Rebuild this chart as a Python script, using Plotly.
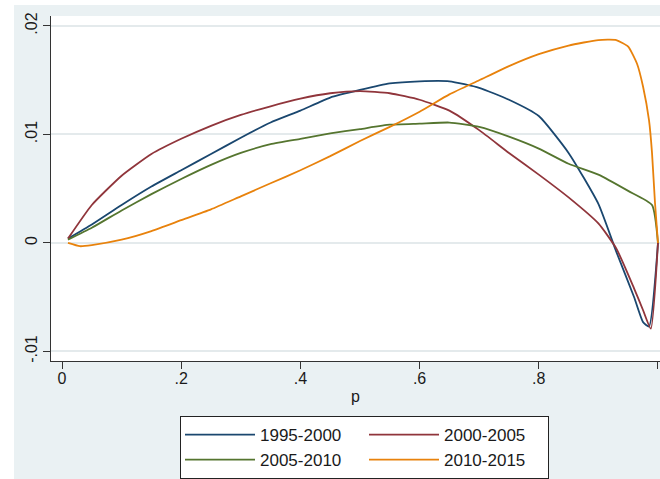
import plotly.graph_objects as go

# ---- data: estimated quantile-difference curves by period ----
p_9500 = [0.01, 0.05, 0.10, 0.15, 0.20, 0.25, 0.30, 0.35, 0.40, 0.45, 0.50, 0.55,
          0.60, 0.65, 0.70, 0.75, 0.80, 0.85, 0.90, 0.93, 0.96, 0.975, 0.985, 1.0]
v_9500 = [0.0004, 0.0017, 0.0035, 0.0052, 0.0067, 0.0082, 0.0097, 0.0111, 0.0122, 0.0134,
          0.0141, 0.0147, 0.0149, 0.0149, 0.0143, 0.0132, 0.0117, 0.0083, 0.0036, -0.0008,
          -0.0050, -0.0073, -0.0077, 0.0]

p_0005 = [0.01, 0.05, 0.10, 0.15, 0.20, 0.25, 0.30, 0.35, 0.40, 0.45, 0.50, 0.55,
          0.60, 0.65, 0.70, 0.75, 0.80, 0.85, 0.90, 0.93, 0.96, 0.975, 0.988, 1.0]
v_0005 = [0.0004, 0.0035, 0.0062, 0.0082, 0.0096, 0.0108, 0.0118, 0.0126, 0.0133, 0.0138,
          0.0140, 0.0138, 0.0132, 0.0122, 0.0104, 0.0083, 0.0063, 0.0042, 0.0018, -0.0005,
          -0.0042, -0.0062, -0.0079, 0.0]

p_0510 = [0.01, 0.05, 0.10, 0.15, 0.20, 0.25, 0.30, 0.35, 0.40, 0.45, 0.50, 0.55,
          0.60, 0.65, 0.70, 0.75, 0.80, 0.85, 0.90, 0.95, 0.99, 1.0]
v_0510 = [0.0003, 0.0014, 0.0030, 0.0045, 0.0059, 0.0072, 0.0083, 0.0091, 0.0096, 0.0101,
          0.0105, 0.0109, 0.0110, 0.0111, 0.0107, 0.0098, 0.0087, 0.0073, 0.0063, 0.0048,
          0.0035, 0.0]

p_1015 = [0.01, 0.03, 0.05, 0.10, 0.15, 0.20, 0.25, 0.30, 0.35, 0.40, 0.45, 0.50, 0.55,
          0.60, 0.65, 0.70, 0.75, 0.80, 0.85, 0.90, 0.93, 0.95, 0.965, 0.975, 0.985,
          0.99, 0.995, 1.0]
v_1015 = [0.0000, -0.0003, -0.0002, 0.0003, 0.0011, 0.0021, 0.0031, 0.0043, 0.0055, 0.0067,
          0.0080, 0.0094, 0.0107, 0.0121, 0.0137, 0.0150, 0.0163, 0.0174, 0.0182, 0.0187,
          0.0187, 0.0181, 0.0165, 0.0144, 0.0113, 0.0083, 0.0037, 0.0]

x_ticks = [0, 0.2, 0.4, 0.6, 0.8, 1.0]
x_ticktext = ["0", ".2", ".4", ".6", ".8", "1"]
y_ticks = [-0.01, 0, 0.01, 0.02]
y_ticktext = ["-.01", "0", ".01", ".02"]

series = [
    ("1995-2000", p_9500, v_9500, "#1A476F", "g1"),
    ("2000-2005", p_0005, v_0005, "#90353B", "g2"),
    ("2005-2010", p_0510, v_0510, "#55752F", "g1"),
    ("2010-2015", p_1015, v_1015, "#E8820C", "g2"),
]

# ---- layout geometry (pixels) ----
W, H = 660, 479
L, R, T, B = 51, 0, 16, 117
PW, PH = W - L - R, H - T - B


def px_x(x):
    return (x - L) / PW


def px_y(y):
    return (H - B - y) / PH


fig = go.Figure()
for name, xs, ys, col, grp in series:
    fig.add_trace(go.Scatter(
        x=xs, y=ys, mode="lines", name=name, legendgroup=grp,
        line=dict(color=col, width=1.8, shape="spline", smoothing=0.5),
    ))

font = "Liberation Sans, Arial, sans-serif"
bg = "#EAF1F3"

fig.update_layout(
    width=W, height=H,
    margin=dict(l=L, r=R, t=T, b=B, pad=0),
    paper_bgcolor=bg,
    plot_bgcolor="white",
    font=dict(family=font, size=16, color="#1a1a1a"),
    showlegend=True,
    legend=dict(
        orientation="h", traceorder="grouped",
        x=px_x(180), xanchor="left", y=px_y(417), yanchor="top",
        bgcolor="white", bordercolor="#222", borderwidth=1,
        font=dict(family=font, size=17, color="#1a1a1a"),
        itemwidth=70, tracegroupgap=62,
        entrywidth=99, entrywidthmode="pixels",
    ),
    xaxis=dict(
        range=[-0.0185, 1.0034], tickvals=x_ticks, ticktext=x_ticktext,
        showgrid=False, zeroline=False, showline=True, linecolor="#333", linewidth=1,
        ticks="outside", ticklen=7, tickcolor="#333", ticklabelstandoff=-4,
        title=dict(text="p", standoff=4, font=dict(size=16)),
    ),
    yaxis=dict(
        range=[-0.01088, 0.02092], tickvals=y_ticks, ticktext=y_ticktext,
        tickangle=-90, showgrid=True, gridcolor="#E4EAEC", gridwidth=1.5,
        zeroline=False, showline=True, linecolor="#333", linewidth=1,
        ticks="outside", ticklen=7, tickcolor="#333",
    ),
    shapes=[
        # white border strips around the shaded graph region
        dict(type="rect", xref="paper", yref="paper", layer="below",
             x0=px_x(-5), x1=px_x(14), y0=px_y(H + 5), y1=px_y(-5),
             fillcolor="white", line=dict(width=0)),
        dict(type="rect", xref="paper", yref="paper", layer="below",
             x0=px_x(-5), x1=px_x(W + 5), y0=px_y(5), y1=px_y(-5),
             fillcolor="white", line=dict(width=0)),
    ],
)

fig.write_html("out.html")
